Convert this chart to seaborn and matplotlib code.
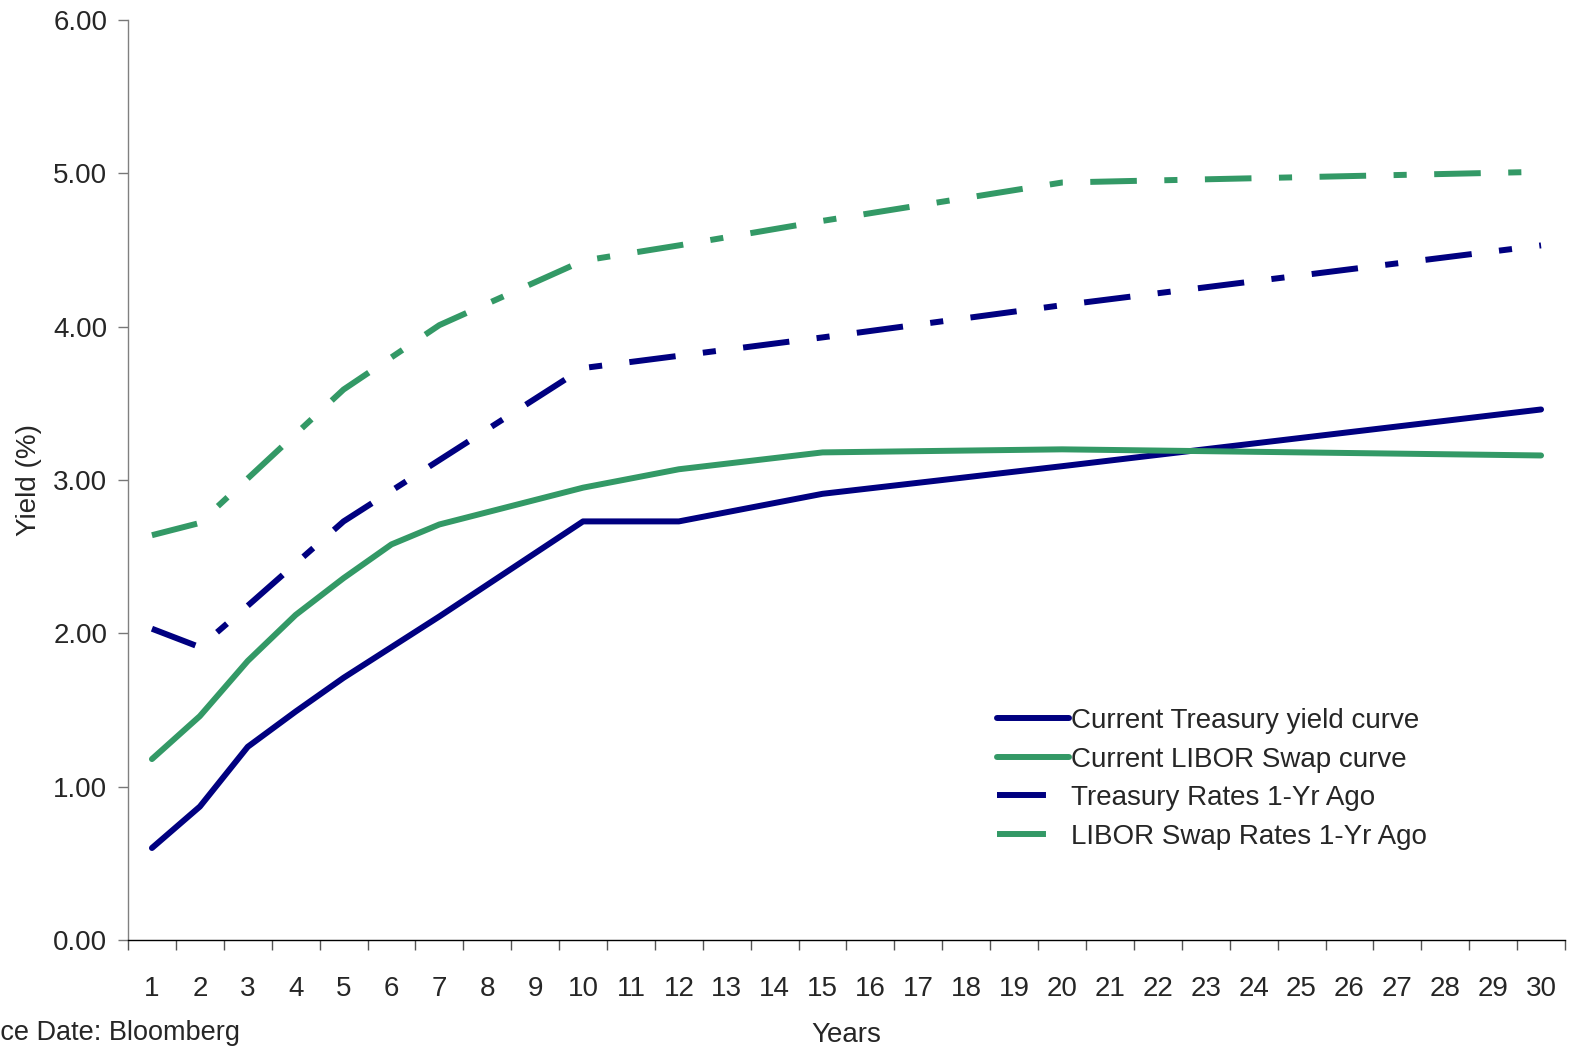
import numpy as np
import pandas as pd
import matplotlib
matplotlib.use("Agg")
import matplotlib.pyplot as plt
from matplotlib.lines import Line2D
import seaborn as sns

# Datos (rendimientos en %)
years_now = [1, 2, 3, 4, 5, 6, 7, 10, 12, 15, 20, 30]
treasury_now = [0.60, 0.87, 1.26, 1.49, 1.71, 1.91, 2.11, 2.73, 2.73, 2.91, 3.09, 3.46]
libor_now = [1.18, 1.46, 1.82, 2.12, 2.36, 2.58, 2.71, 2.95, 3.07, 3.18, 3.20, 3.16]

years_ago = [1, 2, 3, 5, 7, 10, 12, 15, 20, 30]
treasury_ago = [2.03, 1.91, 2.18, 2.73, 3.13, 3.73, 3.81, 3.93, 4.14, 4.53]
libor_ago = [2.64, 2.72, 3.01, 3.59, 4.01, 4.43, 4.53, 4.69, 4.94, 5.01]

labels = ['Current Treasury yield curve', 'Current LIBOR Swap curve',
          'Treasury Rates 1-Yr Ago', 'LIBOR Swap Rates 1-Yr Ago']
tick_years = list(range(1, 31))

navy = '#000080'
green = '#339966'

sns.set_style('white')
plt.rcParams['font.family'] = ['Liberation Sans', 'DejaVu Sans']

fig = plt.figure(figsize=(15.76, 10.47), dpi=100)
ax = fig.add_axes([128 / 1576, 1 - 940 / 1047, 1437 / 1576, 920 / 1047])

lw = 4.3
fs = 20
dash_pat = (7.8, 4.6, 2.2, 4.6)

sns.lineplot(x=years_now, y=treasury_now, ax=ax, color=navy, lw=lw,
             solid_capstyle='round', solid_joinstyle='round')
sns.lineplot(x=years_now, y=libor_now, ax=ax, color=green, lw=lw,
             solid_capstyle='round', solid_joinstyle='round')
l3 = sns.lineplot(x=years_ago, y=treasury_ago, ax=ax, color=navy, lw=lw).lines[-1]
l3.set_dashes(dash_pat)
l3.set_dash_capstyle('butt')
l4 = sns.lineplot(x=years_ago, y=libor_ago, ax=ax, color=green, lw=lw).lines[-1]
l4.set_dashes(dash_pat)
l4.set_dash_capstyle('butt')

ax.set_xlim(0.5, 30.5)
ax.set_ylim(0, 6)
ax.set_yticks(np.arange(0, 6.01, 1.0))
ax.set_yticklabels([f'{v:.2f}' for v in np.arange(0, 6.01, 1.0)], fontsize=fs)
ax.set_xticks(tick_years)
ax.set_xticklabels([str(t) for t in tick_years], fontsize=fs)
ax.set_xticks(np.arange(0.5, 31, 1.0), minor=True)
ax.tick_params(axis='x', which='major', length=0, pad=26)
ax.tick_params(axis='x', which='minor', length=7, width=1, color='#555555',
               direction='out', bottom=True)
ax.tick_params(axis='y', length=7, width=1, color='#777777', direction='out',
               pad=8, left=True)

for s in ['top', 'right']:
    ax.spines[s].set_visible(False)
ax.spines['left'].set_color('#808080')
ax.spines['left'].set_linewidth(1)
ax.spines['bottom'].set_color('black')
ax.spines['bottom'].set_linewidth(1)

ax.set_xlabel('Years', fontsize=fs, labelpad=14)
ax.set_ylabel('Yield (%)', fontsize=fs, labelpad=8)

handles = [
    Line2D([], [], color=navy, lw=lw, solid_capstyle='round'),
    Line2D([], [], color=green, lw=lw, solid_capstyle='round'),
    Line2D([], [], color=navy, lw=lw, dashes=(8.2, 4.6), dash_capstyle='butt'),
    Line2D([], [], color=green, lw=lw, dashes=(8.2, 4.6), dash_capstyle='butt'),
]
ax.legend(handles, labels, loc='upper left', bbox_to_anchor=(858 / 1437, 1 - 677 / 920),
          frameon=False, fontsize=fs, handlelength=2.6, handletextpad=0.05,
          labelspacing=0.45, borderaxespad=0)

fig.text(240 / 1576, 7 / 1047, 'Source Date: Bloomberg', ha='right', va='baseline', fontsize=19.5)

fig.savefig('out.png', dpi=100)
